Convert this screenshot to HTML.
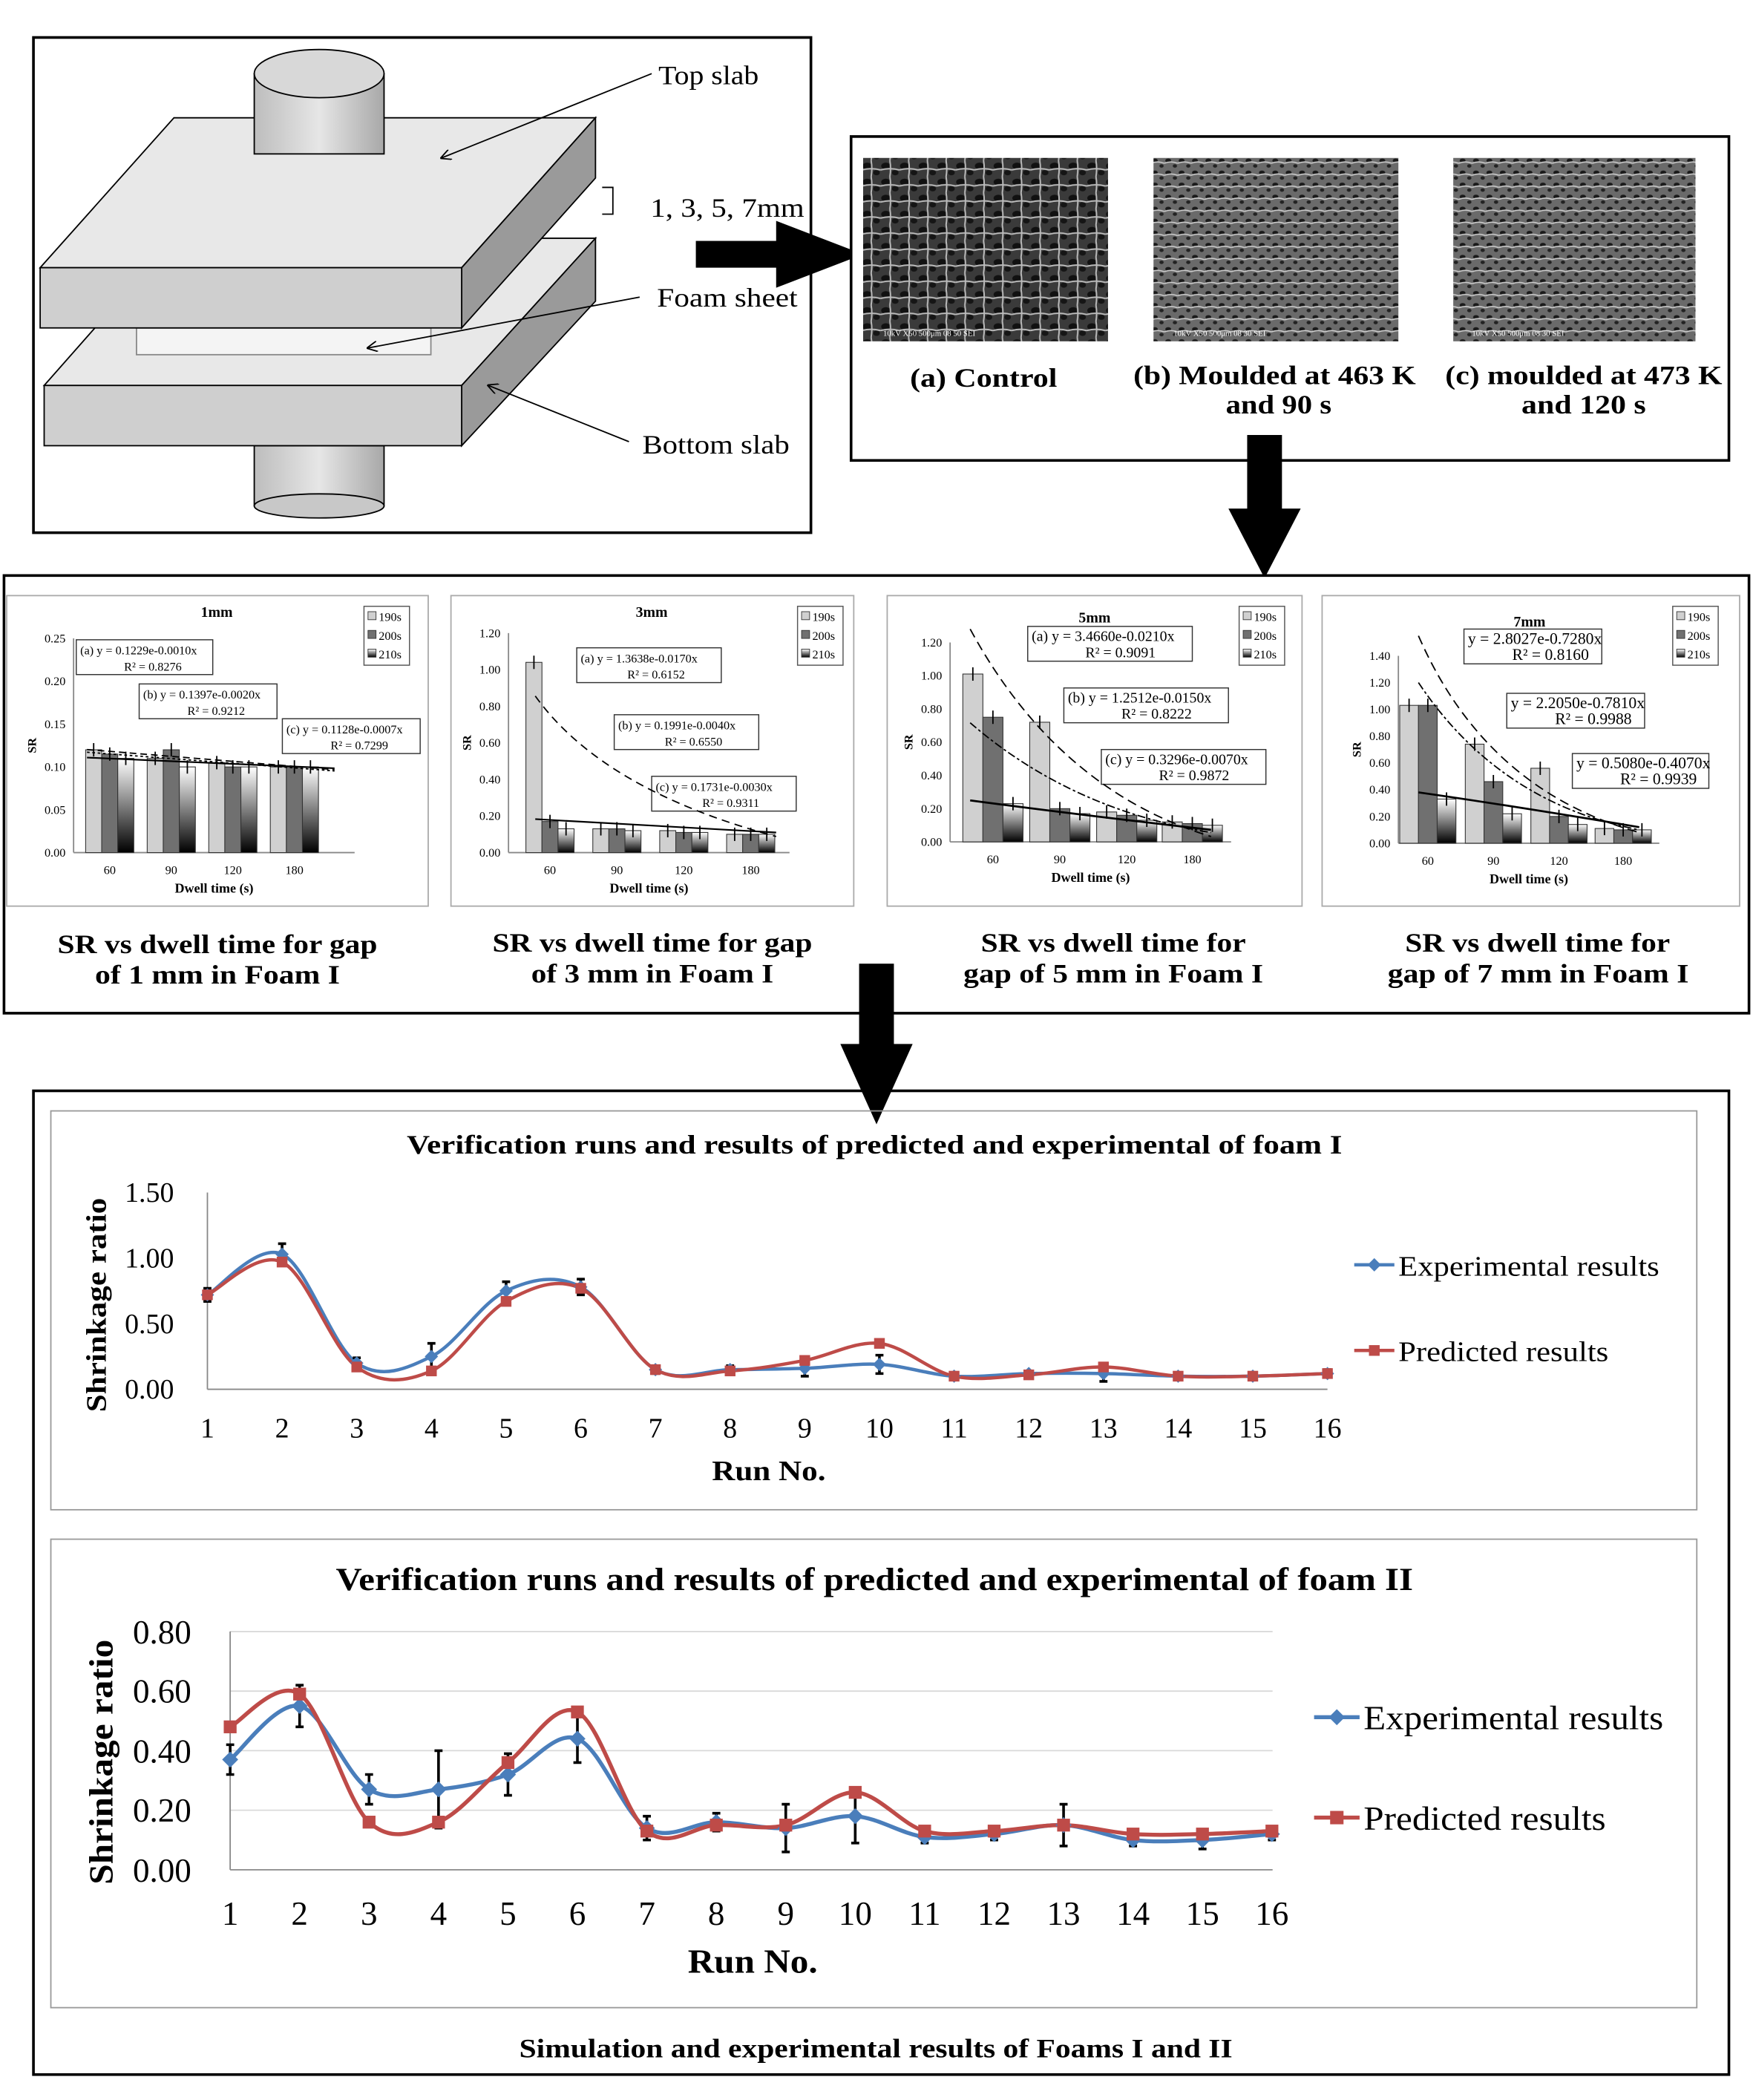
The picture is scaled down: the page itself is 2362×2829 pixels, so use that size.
<!DOCTYPE html>
<html><head><meta charset="utf-8"><style>
html,body{margin:0;padding:0;background:#fff}
svg{display:block}
text{font-family:"Liberation Serif",serif}
</style></head><body>
<svg id="s" xmlns="http://www.w3.org/2000/svg" width="2362" height="2829" viewBox="0 0 1310 1569" preserveAspectRatio="none">
<defs>
<linearGradient id="cyl" x1="0" x2="1"><stop offset="0" stop-color="#bdbdbd"/><stop offset="0.5" stop-color="#e6e6e6"/><stop offset="1" stop-color="#a8a8a8"/></linearGradient>
<linearGradient id="bw" x1="0" y1="0" x2="0" y2="1"><stop offset="0" stop-color="#fff"/><stop offset="1" stop-color="#000"/></linearGradient>
<pattern id="foam" width="14" height="12" patternUnits="userSpaceOnUse"><rect width="14" height="12" fill="#3a3a3a"/><ellipse cx="4" cy="4" rx="3.5" ry="2.5" fill="#111"/><ellipse cx="11" cy="9" rx="2.5" ry="2" fill="#151515"/><path d="M0 7 Q7 5 14 7 M7 0 Q8 6 7 12" stroke="#bbb" stroke-width="1.1" fill="none"/></pattern>
<pattern id="foam2" width="10" height="9" patternUnits="userSpaceOnUse"><rect width="10" height="9" fill="#6a6a6a"/><ellipse cx="3" cy="3" rx="2.2" ry="1.6" fill="#1a1a1a"/><ellipse cx="8" cy="7" rx="1.6" ry="1.3" fill="#222"/><path d="M0 5 Q5 3 10 5" stroke="#ccc" stroke-width="0.9" fill="none"/></pattern>
<marker id="ah" markerWidth="8" markerHeight="8" refX="7" refY="4" orient="auto"><path d="M0,0 L8,4 L0,8" fill="none" stroke="#000" stroke-width="1"/></marker>
</defs>
<rect width="1310" height="1569" fill="#fff"/>

<!-- Top-left box -->
<rect x="25" y="28" width="581" height="370" fill="#fff" stroke="#000" stroke-width="2"/>
<rect x="190" y="333" width="97" height="45" fill="url(#cyl)" stroke="#000"/>
<ellipse cx="238.5" cy="378" rx="48.5" ry="9" fill="#c8c8c8" stroke="#000"/>
<polygon points="33,288 130,178 445,178 345,288" fill="#e8e8e8" stroke="#000"/>
<polygon points="345,288 445,178 445,225 345,333" fill="#9a9a9a" stroke="#000"/>
<rect x="33" y="288" width="312" height="45" fill="#cfcfcf" stroke="#000"/>
<rect x="102" y="245" width="220" height="20" fill="#f4f4f4" stroke="#888"/>
<polygon points="102,245 142,175 385,175 322,245" fill="none" stroke="#999"/>
<polygon points="30,200 130,88 445,88 345,200" fill="#e8e8e8" stroke="#000"/>
<polygon points="345,200 445,88 445,133 345,245" fill="#9a9a9a" stroke="#000"/>
<rect x="30" y="200" width="315" height="45" fill="#cfcfcf" stroke="#000"/>
<rect x="190" y="55" width="97" height="60" fill="url(#cyl)" stroke="#000"/>
<ellipse cx="238.5" cy="55" rx="48.5" ry="18" fill="#d8d8d8" stroke="#000"/>
<line x1="487" y1="55" x2="330" y2="118" stroke="#000" marker-end="url(#ah)"/>
<line x1="478" y1="222" x2="275" y2="260" stroke="#000" marker-end="url(#ah)"/>
<line x1="470" y1="330" x2="365" y2="288" stroke="#000" marker-end="url(#ah)"/>
<path d="M450 140 H458 V160 H450" fill="none" stroke="#000"/>
<g lengthAdjust="spacingAndGlyphs">
<text x="492" y="63" font-size="20" textLength="75" lengthAdjust="spacingAndGlyphs">Top slab</text>
<text x="486" y="162" font-size="20" textLength="115" lengthAdjust="spacingAndGlyphs">1, 3, 5, 7mm</text>
<text x="491" y="229" font-size="20" textLength="105" lengthAdjust="spacingAndGlyphs">Foam sheet</text>
<text x="480" y="339" font-size="20" textLength="110" lengthAdjust="spacingAndGlyphs">Bottom slab</text>
</g>

<!-- right arrow -->
<rect x="520" y="180" width="62" height="20" fill="#000"/>
<polygon points="580,165 645,190 580,215" fill="#000"/>

<!-- SEM box -->
<rect x="636" y="102" width="656" height="242" fill="#fff" stroke="#000" stroke-width="2"/>
<rect x="645" y="118" width="183" height="137" fill="url(#foam)"/>
<rect x="862" y="118" width="183" height="137" fill="url(#foam2)"/>
<rect x="1086" y="118" width="181" height="137" fill="url(#foam2)"/>
<g font-size="6" fill="#fff" font-family="Liberation Sans,sans-serif"><text x="660" y="251">10kV   X50   500μm   08 50 SEI</text><text x="877" y="251">10kV   X50   500μm   08 30 SEI</text><text x="1100" y="251">10kV   X50   500μm   08 30 SEI</text></g>
<g font-size="20" font-weight="bold">
<text x="680" y="289" textLength="110" lengthAdjust="spacingAndGlyphs">(a) Control</text>
<text x="847" y="287" textLength="211" lengthAdjust="spacingAndGlyphs">(b) Moulded at 463 K</text><text x="916" y="309" textLength="79" lengthAdjust="spacingAndGlyphs">and 90 s</text>
<text x="1080" y="287" textLength="207" lengthAdjust="spacingAndGlyphs">(c) moulded at 473 K</text><text x="1137" y="309" textLength="93" lengthAdjust="spacingAndGlyphs">and 120 s</text>
</g>
<!-- down arrow right -->
<rect x="932" y="325" width="26" height="58" fill="#000"/>
<polygon points="918,380 972,380 945,432" fill="#000"/>

<!-- middle box -->
<rect x="3" y="430" width="1304" height="327" fill="#fff" stroke="#000" stroke-width="2"/>
<g stroke="#aaa" fill="#fff"><rect x="5" y="445" width="315" height="232"/><rect x="337" y="445" width="301" height="232"/><rect x="663" y="445" width="310" height="232"/><rect x="988" y="445" width="312" height="232"/></g>
<g id="small"></g>
<g font-size="20" font-weight="bold">
<text x="43" y="712" textLength="239" lengthAdjust="spacingAndGlyphs">SR vs dwell time for gap</text><text x="71" y="735" textLength="183" lengthAdjust="spacingAndGlyphs">of 1 mm in Foam I</text>
<text x="368" y="711" textLength="239" lengthAdjust="spacingAndGlyphs">SR vs dwell time for gap</text><text x="397" y="734" textLength="181" lengthAdjust="spacingAndGlyphs">of 3 mm in Foam I</text>
<text x="733" y="711" textLength="198" lengthAdjust="spacingAndGlyphs">SR vs dwell time for</text><text x="720" y="734" textLength="224" lengthAdjust="spacingAndGlyphs">gap of 5 mm in Foam I</text>
<text x="1050" y="711" textLength="198" lengthAdjust="spacingAndGlyphs">SR vs dwell time for</text><text x="1037" y="734" textLength="225" lengthAdjust="spacingAndGlyphs">gap of 7 mm in Foam I</text>
</g>
<!-- down arrow middle -->
<rect x="642" y="720" width="26" height="62" fill="#000"/>
<polygon points="628,780 682,780 655,840" fill="#000"/>

<!-- bottom box -->
<rect x="25" y="815" width="1267" height="735" fill="none" stroke="#000" stroke-width="2"/>
<rect x="38" y="830" width="1230" height="298" fill="none" stroke="#999"/>
<rect x="38" y="1150" width="1230" height="350" fill="none" stroke="#999"/>
<text x="304" y="862" font-size="20" font-weight="bold" textLength="699" lengthAdjust="spacingAndGlyphs">Verification runs and results of predicted and experimental  of foam I</text>
<text x="251" y="1188" font-size="24" font-weight="bold" textLength="805" lengthAdjust="spacingAndGlyphs">Verification runs and results of predicted and experimental of foam II</text>
<text x="388" y="1537" font-size="20" font-weight="bold" textLength="533" lengthAdjust="spacingAndGlyphs">Simulation and experimental results of Foams I and II</text>

<!-- chart1 -->
<line x1="155" y1="891" x2="155" y2="1038" stroke="#888"/>
<line x1="155" y1="1038" x2="992" y2="1038" stroke="#888"/>
<g font-size="21" text-anchor="end"><text x="130" y="898">1.50</text><text x="130" y="947">1.00</text><text x="130" y="996">0.50</text><text x="130" y="1045">0.00</text></g>
<text transform="translate(79,1055) rotate(-90)" font-size="21" font-weight="bold" textLength="160" lengthAdjust="spacingAndGlyphs">Shrinkage ratio</text>
<g font-size="21" text-anchor="middle" id="x1"></g>
<text x="532" y="1106" font-size="21" font-weight="bold" textLength="85" lengthAdjust="spacingAndGlyphs">Run No.</text>
<g id="c1"></g>
<line x1="1012" y1="945" x2="1042" y2="945" stroke="#4a7ebb" stroke-width="2.5"/><polygon points="1027,940 1032,945 1027,950 1022,945" fill="#4a7ebb"/>
<text x="1045" y="953" font-size="21" textLength="195" lengthAdjust="spacingAndGlyphs">Experimental results</text>
<line x1="1012" y1="1009" x2="1042" y2="1009" stroke="#be4b48" stroke-width="2.5"/><rect x="1023" y="1005" width="8" height="8" fill="#be4b48"/>
<text x="1045" y="1017" font-size="21" textLength="157" lengthAdjust="spacingAndGlyphs">Predicted results</text>

<!-- chart2 -->
<g stroke="#d9d9d9"><line x1="172" y1="1219" x2="951" y2="1219"/><line x1="172" y1="1263.5" x2="951" y2="1263.5"/><line x1="172" y1="1308" x2="951" y2="1308"/><line x1="172" y1="1352.5" x2="951" y2="1352.5"/></g>
<line x1="172" y1="1219" x2="172" y2="1397" stroke="#888"/>
<line x1="172" y1="1397" x2="951" y2="1397" stroke="#888"/>
<g font-size="25" text-anchor="end"><text x="143" y="1228">0.80</text><text x="143" y="1272">0.60</text><text x="143" y="1317">0.40</text><text x="143" y="1361">0.20</text><text x="143" y="1406">0.00</text></g>
<text transform="translate(84,1408) rotate(-90)" font-size="25" font-weight="bold" textLength="183" lengthAdjust="spacingAndGlyphs">Shrinkage ratio</text>
<g font-size="25" text-anchor="middle" id="x2"></g>
<text x="514" y="1474" font-size="25" font-weight="bold" textLength="97" lengthAdjust="spacingAndGlyphs">Run No.</text>
<g id="c2"></g>
<line x1="982" y1="1283" x2="1016" y2="1283" stroke="#4a7ebb" stroke-width="3"/><polygon points="999,1277 1005,1283 999,1289 993,1283" fill="#4a7ebb"/>
<text x="1019" y="1292" font-size="25" textLength="224" lengthAdjust="spacingAndGlyphs">Experimental results</text>
<line x1="982" y1="1358" x2="1016" y2="1358" stroke="#be4b48" stroke-width="3"/><rect x="994" y="1353" width="10" height="10" fill="#be4b48"/>
<text x="1019" y="1367" font-size="25" textLength="181" lengthAdjust="spacingAndGlyphs">Predicted results</text>
</svg>
<script>
var NS="http://www.w3.org/2000/svg";
function el(p,t,a,txt){var e=document.createElementNS(NS,t);for(var k in a)e.setAttribute(k,a[k]);if(txt!==undefined)e.textContent=txt;p.appendChild(e);return e;}
function smooth(pts){var d="M"+pts[0][0]+","+pts[0][1];for(var i=0;i<pts.length-1;i++){var p0=pts[i-1]||pts[i],p1=pts[i],p2=pts[i+1],p3=pts[i+2]||p2;var c1=[p1[0]+(p2[0]-p0[0])/6,p1[1]+(p2[1]-p0[1])/6],c2=[p2[0]-(p3[0]-p1[0])/6,p2[1]-(p3[1]-p1[1])/6];d+=" C"+c1+" "+c2+" "+p2;}return d;}
function chart(g,xg,x0,dx,y0,sc,exp,pred,err,ms,lw,ty,fs){
 for(var i=0;i<16;i++){el(xg,"text",{x:x0+i*dx,y:ty},String(i+1));}
 var pe=exp.map(function(v,i){return [x0+i*dx,y0-v*sc]}),pp=pred.map(function(v,i){return [x0+i*dx,y0-v*sc]});
 el(g,"path",{d:smooth(pe),stroke:"#4a7ebb","stroke-width":lw,fill:"none"});
 el(g,"path",{d:smooth(pp),stroke:"#be4b48","stroke-width":lw,fill:"none"});
 pe.forEach(function(p,i){var e=err[i]*sc;el(g,"path",{d:"M"+p[0]+","+(p[1]-e)+"V"+(p[1]+e)+"M"+(p[0]-3)+","+(p[1]-e)+"h6M"+(p[0]-3)+","+(p[1]+e)+"h6",stroke:"#000","stroke-width":2});});
 pe.forEach(function(p){el(g,"polygon",{points:[p[0],p[1]-ms,p[0]+ms,p[1],p[0],p[1]+ms,p[0]-ms,p[1]].join(" "),fill:"#4a7ebb"});});
 pp.forEach(function(p){el(g,"rect",{x:p[0]-ms*0.8,y:p[1]-ms*0.8,width:ms*1.6,height:ms*1.6,fill:"#be4b48"});});
}
chart(document.getElementById("c1"),document.getElementById("x1"),155,55.8,1038,98,
[0.72,1.03,0.2,0.25,0.75,0.78,0.15,0.15,0.16,0.19,0.1,0.12,0.12,0.1,0.1,0.12],
[0.72,0.97,0.17,0.14,0.67,0.77,0.15,0.14,0.22,0.35,0.1,0.11,0.17,0.1,0.1,0.12],
[0.05,0.08,0.04,0.1,0.07,0.06,0.03,0.03,0.06,0.07,0.02,0.02,0.06,0.02,0.02,0.03],5,2.5,1074,21);
chart(document.getElementById("c2"),document.getElementById("x2"),172,51.9,1397,222.5,
[0.37,0.55,0.27,0.27,0.32,0.44,0.14,0.16,0.14,0.18,0.11,0.12,0.15,0.1,0.1,0.12],
[0.48,0.59,0.16,0.16,0.36,0.53,0.13,0.15,0.15,0.26,0.13,0.13,0.15,0.12,0.12,0.13],
[0.05,0.07,0.05,0.13,0.07,0.08,0.04,0.03,0.08,0.09,0.02,0.02,0.07,0.02,0.03,0.02],6,3,1438,25);

var sm=document.getElementById("small");
function small(o){
 el(sm,"text",{x:o.tx,y:o.ty,"font-size":11,"font-weight":"bold","text-anchor":"middle"},o.title);
 el(sm,"line",{x1:o.x0,y1:o.yt,x2:o.x0,y2:o.yb,stroke:"#888"});
 el(sm,"line",{x1:o.x0,y1:o.yb,x2:o.x1,y2:o.yb,stroke:"#888"});
 var sc=(o.yb-o.yt)/o.max;
 o.ticks.forEach(function(t){el(sm,"text",{x:o.x0-6,y:o.yb-t*sc+3,"font-size":9,"text-anchor":"end"},t.toFixed(2));});
 el(sm,"text",{transform:"translate("+(o.x0-28)+","+((o.yt+o.yb)/2)+") rotate(-90)","font-size":9,"font-weight":"bold","text-anchor":"middle"},"SR");
 var labs=["60","90","120","180"],fills=["#d0d0d0","#707070","url(#bw)"];
 o.gx.forEach(function(cx,i){
  el(sm,"text",{x:cx,y:o.yb+16,"font-size":9,"text-anchor":"middle"},labs[i]);
  for(var j=0;j<3;j++){var v=o.v[i][j],h=v*sc,bx=cx-o.bw*1.5+j*o.bw;
   el(sm,"rect",{x:bx,y:o.yb-h,width:o.bw,height:h,fill:fills[j],stroke:"#333","stroke-width":0.6});
   el(sm,"path",{d:"M"+(bx+o.bw/2)+","+(o.yb-h-5)+"v10",stroke:"#000","stroke-width":1});}
 });
 el(sm,"text",{x:(o.x0+o.x1)/2,y:o.yb+30,"font-size":10,"font-weight":"bold","text-anchor":"middle"},"Dwell time (s)");
 el(sm,"rect",{x:o.lx,y:o.ly,width:34,height:44,fill:"#fff",stroke:"#555","stroke-width":0.8});
 ["190s","200s","210s"].forEach(function(s,j){el(sm,"rect",{x:o.lx+3,y:o.ly+4+j*14,width:6,height:6,fill:fills[j],stroke:"#333","stroke-width":0.5});el(sm,"text",{x:o.lx+11,y:o.ly+11+j*14,"font-size":9},s);});
 o.eq.forEach(function(q){el(sm,"rect",{x:q[0],y:q[1],width:q[2],height:26,fill:"#fff",stroke:"#333","stroke-width":0.8});
  el(sm,"text",{x:q[0]+3,y:q[1]+11,"font-size":o.efs},q[3]);el(sm,"text",{x:q[0]+q[2]*0.35,y:q[1]+23,"font-size":o.efs},q[4]);});
 o.curves.forEach(function(c){el(sm,"path",{d:c[0],stroke:"#000","stroke-width":c[1]||1,"stroke-dasharray":c[2]||"",fill:"none"});});
}
small({title:"1mm",tx:162,ty:461,x0:55,x1:265,yt:477,yb:637,max:0.25,ticks:[0,0.05,0.1,0.15,0.2,0.25],gx:[82,128,174,220],bw:12,
 v:[[0.12,0.115,0.11],[0.11,0.12,0.1],[0.105,0.1,0.1],[0.1,0.1,0.1]],lx:272,ly:453,efs:9,
 eq:[[57,478,102,"(a) y = 0.1229e-0.0010x","R² = 0.8276"],[104,511,103,"(b) y = 0.1397e-0.0020x","R² = 0.9212"],[211,537,103,"(c) y = 0.1128e-0.0007x","R² = 0.7299"]],
 curves:[["M65,560 L250,575",1,"5,3"],["M65,562 L250,576",1,"2,2"],["M65,566 L250,574",1.2]]});
small({title:"3mm",tx:487,ty:461,x0:380,x1:590,yt:473,yb:637,max:1.2,ticks:[0,0.2,0.4,0.6,0.8,1,1.2],gx:[411,461,511,561],bw:12,
 v:[[1.04,0.17,0.13],[0.13,0.13,0.12],[0.12,0.11,0.11],[0.1,0.1,0.1]],lx:596,ly:453,efs:9,
 eq:[[431,484,108,"(a) y = 1.3638e-0.0170x","R² = 0.6152"],[459,534,108,"(b) y = 0.1991e-0.0040x","R² = 0.6550"],[487,580,108,"(c) y = 0.1731e-0.0030x","R² = 0.9311"]],
 curves:[["M400,520 Q450,590 580,625",1,"6,4"],["M400,612 L580,622",1.2]]});
small({title:"5mm",tx:818,ty:465,x0:710,x1:920,yt:480,yb:629,max:1.2,ticks:[0,0.2,0.4,0.6,0.8,1,1.2],gx:[742,792,842,891],bw:15,
 v:[[1.01,0.75,0.23],[0.72,0.2,0.17],[0.18,0.16,0.13],[0.12,0.11,0.1]],lx:926,ly:453,efs:11,
 eq:[[768,468,123,"(a) y = 3.4660e-0.0210x","R² = 0.9091"],[795,514,123,"(b) y = 1.2512e-0.0150x","R² = 0.8222"],[823,560,123,"(c) y = 0.3296e-0.0070x","R² = 0.9872"]],
 curves:[["M725,470 Q790,590 905,625",1,"7,4"],["M725,540 Q800,605 905,622",1,"6,2,2,2"],["M725,598 Q800,608 905,620",1.5]]});
small({title:"7mm",tx:1143,ty:468,x0:1045,x1:1240,yt:490,yb:630,max:1.4,ticks:[0,0.2,0.4,0.6,0.8,1,1.2,1.4],gx:[1067,1116,1165,1213],bw:14,
 v:[[1.03,1.03,0.33],[0.74,0.46,0.22],[0.56,0.2,0.14],[0.11,0.1,0.1]],lx:1250,ly:453,efs:12,
 eq:[[1094,470,103,"y = 2.8027e-0.7280x","R² = 0.8160"],[1126,518,103,"y = 2.2050e-0.7810x","R² = 0.9988"],[1175,563,102,"y = 0.5080e-0.4070x","R² = 0.9939"]],
 curves:[["M1060,475 Q1110,590 1225,622",1,"7,4"],["M1060,510 Q1120,600 1225,620",1,"6,2,2,2"],["M1060,592 Q1130,602 1225,618",1.5]]});
</script>
</body></html>
